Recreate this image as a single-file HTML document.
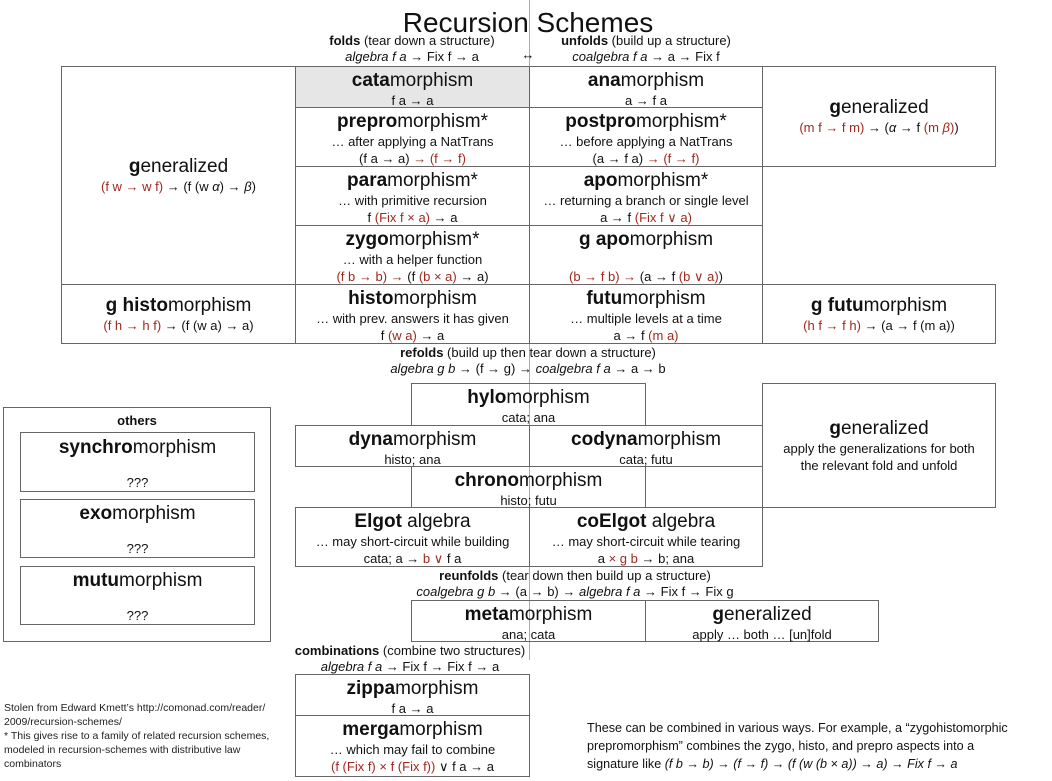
<!DOCTYPE html>
<html><head><meta charset="utf-8"><style>
body{margin:0;width:1052px;height:781px;position:relative;background:#fff;font-family:"Liberation Sans","DejaVu Sans",sans-serif;color:#111;overflow:hidden}
.b{position:absolute;border:1px solid #666;box-sizing:border-box;text-align:center;padding-top:3px}
.t{font-size:19px;line-height:22px;white-space:nowrap}
.s{font-size:13px;line-height:17px;white-space:nowrap}
.c{display:flex;flex-direction:column;justify-content:center;padding-top:0}
.r{color:#a0281e}
.l{position:absolute;text-align:center;font-size:13px;line-height:16px;white-space:nowrap}
i{font-style:italic}
.q{position:absolute;left:0;right:0;bottom:1px;font-size:13px}
</style></head><body>
<div style="position:absolute;left:529px;top:0;width:1px;height:660px;background:#aaa"></div>
<div class="l" style="left:328px;width:400px;top:7px;font-size:28px;line-height:32px">Recursion Schemes</div>
<div class="l" style="left:296px;width:232px;top:33px"><b>folds</b> (tear down a structure)<br><i>algebra f a</i> → Fix f → a</div>
<div class="l" style="left:530px;width:232px;top:33px"><b>unfolds</b> (build up a structure)<br><i>coalgebra f a</i> → a → Fix f</div>
<div class="l" style="left:518px;width:20px;top:47px">↔</div>

<div class="b c" style="left:61px;top:66px;width:235px;height:219px"><div class="t"><b>g</b>eneralized</div><div class="s"><span class="r">(f w → w f)</span> → (f (w <i>α</i>) → <i>β</i>)</div></div>
<div class="b" style="left:295px;top:66px;width:235px;height:42px;background:#e6e6e6"><div class="t"><b>cata</b>morphism</div><div class="s">f a → a</div></div>
<div class="b" style="left:529px;top:66px;width:234px;height:42px"><div class="t"><b>ana</b>morphism</div><div class="s">a → f a</div></div>
<div class="b c" style="left:762px;top:66px;width:234px;height:101px"><div class="t"><b>g</b>eneralized</div><div class="s"><span class="r">(m f → f m)</span> → (<i>α</i> → f <span class="r">(m <i>β</i>)</span>)</div></div>

<div class="b" style="left:295px;top:107px;width:235px;height:60px"><div class="t"><b>prepro</b>morphism*</div><div class="s">… after applying a NatTrans</div><div class="s">(f a → a) <span class="r">→ (f → f)</span></div></div>
<div class="b" style="left:529px;top:107px;width:234px;height:60px"><div class="t"><b>postpro</b>morphism*</div><div class="s">… before applying a NatTrans</div><div class="s">(a → f a) <span class="r">→ (f → f)</span></div></div>
<div class="b" style="left:295px;top:166px;width:235px;height:60px"><div class="t"><b>para</b>morphism*</div><div class="s">… with primitive recursion</div><div class="s">f <span class="r">(Fix f × a)</span> → a</div></div>
<div class="b" style="left:529px;top:166px;width:234px;height:60px"><div class="t"><b>apo</b>morphism*</div><div class="s">… returning a branch or single level</div><div class="s">a → f <span class="r">(Fix f ∨ a)</span></div></div>
<div class="b" style="left:295px;top:225px;width:235px;height:60px"><div class="t"><b>zygo</b>morphism*</div><div class="s">… with a helper function</div><div class="s"><span class="r">(f b → b) →</span> (f <span class="r">(b × a)</span> → a)</div></div>
<div class="b" style="left:529px;top:225px;width:234px;height:60px"><div class="t"><b>g apo</b>morphism</div><div class="s">&nbsp;</div><div class="s"><span class="r">(b → f b) →</span> (a → f <span class="r">(b ∨ a)</span>)</div></div>

<div class="b c" style="left:61px;top:284px;width:235px;height:60px"><div class="t"><b>g histo</b>morphism</div><div class="s"><span class="r">(f h → h f)</span> → (f (w a) → a)</div></div>
<div class="b" style="left:295px;top:284px;width:235px;height:60px"><div class="t"><b>histo</b>morphism</div><div class="s">… with prev. answers it has given</div><div class="s">f <span class="r">(w a)</span> → a</div></div>
<div class="b" style="left:529px;top:284px;width:234px;height:60px"><div class="t"><b>futu</b>morphism</div><div class="s">… multiple levels at a time</div><div class="s">a → f <span class="r">(m a)</span></div></div>
<div class="b c" style="left:762px;top:284px;width:234px;height:60px"><div class="t"><b>g futu</b>morphism</div><div class="s"><span class="r">(h f → f h)</span> → (a → f (m a))</div></div>

<div class="l" style="left:328px;width:400px;top:345px"><b>refolds</b> (build up then tear down a structure)<br><i>algebra g b</i> → (f → g) → <i>coalgebra f a</i> → a → b</div>
<div class="b" style="left:411px;top:383px;width:235px;height:43px"><div class="t"><b>hylo</b>morphism</div><div class="s">cata; ana</div></div>
<div class="b" style="left:295px;top:425px;width:235px;height:42px"><div class="t"><b>dyna</b>morphism</div><div class="s">histo; ana</div></div>
<div class="b" style="left:529px;top:425px;width:234px;height:42px"><div class="t"><b>codyna</b>morphism</div><div class="s">cata; futu</div></div>
<div class="b" style="left:411px;top:466px;width:235px;height:42px"><div class="t"><b>chrono</b>morphism</div><div class="s">histo; futu</div></div>
<div class="b c" style="left:762px;top:383px;width:234px;height:125px"><div class="t"><b>g</b>eneralized</div><div class="s">apply the generalizations for both</div><div class="s">the relevant fold and unfold</div></div>
<div class="b" style="left:295px;top:507px;width:235px;height:60px"><div class="t"><b>Elgot</b> algebra</div><div class="s">… may short-circuit while building</div><div class="s">cata; a → <span class="r">b ∨</span> f a</div></div>
<div class="b" style="left:529px;top:507px;width:234px;height:60px"><div class="t"><b>coElgot</b> algebra</div><div class="s">… may short-circuit while tearing</div><div class="s">a <span class="r">× g b</span> → b; ana</div></div>

<div class="l" style="left:375px;width:400px;top:568px"><b>reunfolds</b> (tear down then build up a structure)<br><i>coalgebra g b</i> → (a → b) → <i>algebra f a</i> → Fix f → Fix g</div>
<div class="b" style="left:411px;top:600px;width:235px;height:42px"><div class="t"><b>meta</b>morphism</div><div class="s">ana; cata</div></div>
<div class="b" style="left:645px;top:600px;width:234px;height:42px"><div class="t"><b>g</b>eneralized</div><div class="s">apply … both … [un]fold</div></div>

<div class="l" style="left:210px;width:400px;top:643px"><b>combinations</b> (combine two structures)<br><i>algebra f a</i> → Fix f → Fix f → a</div>
<div class="b" style="left:295px;top:674px;width:235px;height:42px"><div class="t"><b>zippa</b>morphism</div><div class="s">f a → a</div></div>
<div class="b" style="left:295px;top:715px;width:235px;height:62px"><div class="t"><b>merga</b>morphism</div><div class="s">… which may fail to combine</div><div class="s"><span class="r">(f (Fix f) × f (Fix f))</span> ∨ f a → a</div></div>

<div class="b" style="left:3px;top:407px;width:268px;height:235px"><div class="s" style="font-weight:bold;padding-top:1px">others</div></div>
<div class="b" style="left:20px;top:432px;width:235px;height:60px;padding-top:4px"><div class="t"><b>synchro</b>morphism</div><div class="q">???</div></div>
<div class="b" style="left:20px;top:499px;width:235px;height:59px;padding-top:3px"><div class="t"><b>exo</b>morphism</div><div class="q">???</div></div>
<div class="b" style="left:20px;top:566px;width:235px;height:59px;padding-top:3px"><div class="t"><b>mutu</b>morphism</div><div class="q">???</div></div>

<div style="position:absolute;left:4px;top:701px;width:280px;font-size:10.5px;line-height:14px;color:#222">Stolen from Edward Kmett’s http://comonad.com/reader/ 2009/recursion-schemes/<br>* This gives rise to a family of related recursion schemes, modeled in recursion-schemes with distributive law combinators</div>
<div style="position:absolute;left:587px;top:719px;width:462px;font-size:12.6px;line-height:18px">These can be combined in various ways. For example, a “zygohistomorphic prepromorphism” combines the zygo, histo, and prepro aspects into a<br>signature like <i>(f b → b) → (f → f) → (f (w (b × a)) → a) → Fix f → a</i></div>
</body></html>
